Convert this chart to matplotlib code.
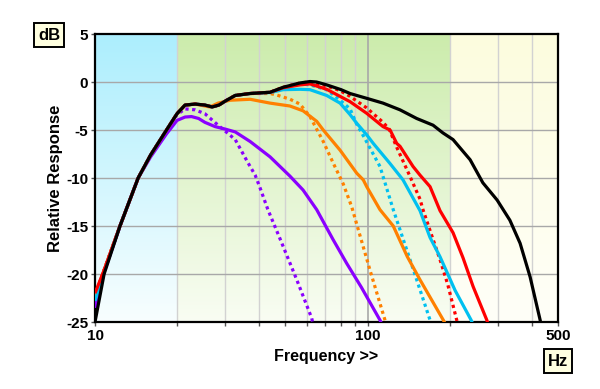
import numpy as np
import matplotlib
matplotlib.use('Agg')
import matplotlib.pyplot as plt
from matplotlib.ticker import FixedLocator, NullFormatter, FixedFormatter

plt.rcParams['font.family'] = ['Liberation Sans', 'DejaVu Sans']

# ---------------- data ----------------
black_f = [10, 10.8, 12.35, 14.4, 16.0, 18.3, 20.0, 21.4, 23.3, 25.3, 26.9, 28.5, 30, 32.7, 37, 43.9, 49,
           56.5, 61.5, 65, 70.8, 80, 86.3, 99.3, 114, 131.6, 151.5, 174, 189, 206, 238, 265, 299, 333,
           363, 395, 430, 445]
black_db = [-25, -20, -15, -10, -7.6, -5.0, -3.3, -2.4, -2.3, -2.4, -2.6, -2.4, -2.0, -1.4, -1.2, -1.07, -0.55,
            -0.1, 0.05, 0.0, -0.3, -0.8, -1.2, -1.7, -2.2, -2.9, -3.8, -4.5, -5.3, -6.0, -8.1, -10.5, -12.3, -14.4,
            -16.8, -20.3, -24.8, -27]

red_f = [10, 10.8, 12.35, 14.4, 16.0, 18.3, 20.0, 21.4, 23.3, 25.3, 26.9, 28.5, 30, 32.7, 37, 43.9, 49,
         56.5, 61.5, 70.8, 86.3, 99.3, 114, 121, 128, 131.6, 146.9, 155.8, 169.6, 184.5, 206, 224, 244, 274, 285]
red_db = [-22, -19.6, -15, -10, -7.6, -5.0, -3.3, -2.4, -2.3, -2.4, -2.6, -2.4, -2.0, -1.4, -1.2, -1.07, -0.6,
          -0.3, -0.2, -0.76, -2.05, -3.26, -4.65, -5.0, -6.4, -6.7, -8.8, -9.7, -10.9, -13.4, -15.7, -18.3, -21.3,
          -24.8, -26.5]

red_dot_f = [10, 10.8, 12.35, 14.4, 16.0, 18.3, 20.0, 21.4, 23.3, 25.3, 26.9, 28.5, 30, 32.7, 37, 43.9, 49,
             56.5, 61.5, 70.8, 79.3, 86.3, 99.3, 114, 120, 128, 143, 155.8, 159.8, 174, 184.5, 197, 212.5, 220]
red_dot_db = [-22.3, -19.6, -15, -10, -7.6, -5.0, -3.3, -2.4, -2.3, -2.4, -2.6, -2.4, -2.0, -1.4, -1.2, -1.07, -0.55,
              -0.1, 0.0, -0.4, -0.9, -1.5, -2.7, -4.2, -4.9, -6.8, -9.8, -12.2, -13.3, -16.4, -18.5, -21.1,
              -24.8, -27]

cyan_f = [10, 10.8, 12.35, 14.4, 16.0, 18.3, 20.0, 21.4, 23.3, 25.3, 26.9, 28.5, 30, 32.7, 37, 43.9, 49,
          56.5, 61.5, 70.8, 79.3, 86.3, 91.3, 99.3, 105, 121, 135, 155.8, 169.6, 184.5, 209.5, 240, 250]
cyan_db = [-22.8, -19.7, -15, -10, -7.6, -5.0, -3.3, -2.4, -2.3, -2.4, -2.6, -2.4, -2.0, -1.4, -1.2, -1.1, -0.8,
           -0.76, -0.8, -1.4, -2.2, -3.4, -4.3, -5.5, -6.4, -8.5, -10.2, -13.4, -16.2, -18.2, -21.7, -24.8, -26]

cyan_dot_f = [10, 10.8, 12.35, 14.4, 16.0, 18.3, 20.0, 21.4, 23.3, 25.3, 26.9, 28.5, 30, 32.7, 37, 43.9, 49,
              56.5, 61.5, 70.8, 79.3, 86.3, 91.3, 96.5, 111.1, 124.3, 143.2, 169.6, 178]
cyan_dot_db = [-22.8, -19.7, -15, -10, -7.6, -5.0, -3.3, -2.4, -2.3, -2.4, -2.6, -2.4, -2.0, -1.4, -1.2, -1.07, -0.6,
               -0.2, -0.3, -0.8, -1.9, -2.8, -4.4, -5.6, -8.8, -13.3, -18.5, -24.8, -26.5]

orange_f = [10, 10.8, 12.35, 14.4, 16.0, 18.3, 20.0, 21.4, 23.3, 25.3, 26.4, 28.3, 31.3, 37.1, 43.9, 51.9, 58,
            65.1, 68.8, 79.3, 91.3, 96.5, 99.3, 111.1, 124.3, 140, 155.8, 189.7, 200]
orange_db = [-22.3, -19.6, -15, -10, -7.6, -5.0, -3.3, -2.4, -2.3, -2.5, -2.6, -2.2, -1.9, -1.8, -2.2, -2.5, -3.0,
             -4.1, -5.0, -7.1, -9.5, -10.2, -10.9, -13.3, -15.0, -18.2, -20.6, -24.8, -26]

orange_dot_f = [10, 10.8, 12.35, 14.4, 16.0, 18.3, 20.0, 21.4, 23.3, 25.3, 26.9, 28.5, 30, 32.7, 37, 43.9, 46.4,
                52, 56.5, 61.5, 68.8, 75, 81.4, 87.5, 102.1, 115.9, 122]
orange_dot_db = [-22.3, -19.6, -15, -10, -7.6, -5.0, -3.3, -2.4, -2.3, -2.4, -2.6, -2.4, -2.0, -1.4, -1.2, -1.2, -1.35,
                 -1.8, -2.3, -3.6, -6.2, -8.5, -10.6, -13.0, -19.6, -24.8, -27]

purple_f = [10, 10.8, 12.35, 14.4, 16.0, 18.3, 20.0, 21.4, 22.6, 24.0, 25.3, 27.6, 30, 32.7, 37.1, 43.9, 51.9,
            58, 65.1, 74.7, 83.9, 95, 111.1, 118]
purple_db = [-23.5, -19.8, -15, -10, -7.8, -5.4, -4.0, -3.65, -3.6, -3.8, -4.2, -4.65, -4.9, -5.2, -6.2, -7.8, -9.8,
             -11.25, -13.3, -16.4, -18.9, -21.4, -24.8, -26.5]

purple_dot_f = [10, 10.8, 12.35, 14.4, 16.0, 18.3, 20.0, 21.4, 23.3, 25.3, 28.3, 30, 32.7, 36.4, 38.7, 40.3, 43.1,
                47.7, 55, 62.4, 64]
purple_dot_db = [-23.5, -19.8, -15, -10, -7.6, -5.1, -3.4, -2.8, -2.9, -3.3, -4.5, -5.1, -6.0, -8.4, -9.7, -11.0,
                 -13.3, -16.3, -20.6, -24.6, -26]

y_ticks = [5, 0, -5, -10, -15, -20, -25]
x_major = [10, 100, 500]
x_minor = [20, 30, 40, 50, 60, 70, 80, 90, 200, 300, 400]
band_edges = [10, 20, 200, 500]

# ---------------- figure ----------------
W, H = 600, 389
fig = plt.figure(figsize=(W / 100, H / 100), dpi=100)
rect = [95 / W, 1 - 322 / H, (558 - 95) / W, (322 - 34) / H]

# background gradient bands
bg = fig.add_axes(rect, zorder=0)
bg.set_axis_off()
ncols, nrows = 463, 288
xs = (np.arange(ncols) + 0.5) / ncols
lx = np.log10(10) + xs * np.log10(50)
t = np.linspace(0, 1, nrows)[:, None]  # 0 top, 1 bottom
tops = [np.array([172, 238, 253]), np.array([204, 236, 172]), np.array([252, 252, 222])]
bots = [np.array([248, 254, 255]), np.array([249, 253, 243]), np.array([255, 255, 248])]
img = np.zeros((nrows, ncols, 3))
for i in range(3):
    m = (lx >= np.log10(band_edges[i])) & (lx < np.log10(band_edges[i + 1]) + 1e-9)
    col = tops[i][None, :] * (1 - t) + bots[i][None, :] * t
    img[:, m, :] = col[:, None, :]
bg.imshow(img / 255.0, extent=[0, 1, 0, 1], aspect='auto', interpolation='bilinear')
bg.set_xlim(0, 1)
bg.set_ylim(0, 1)

ax = fig.add_axes(rect, zorder=1)
ax.patch.set_alpha(0)
ax.set_xscale('log')
ax.set_xlim(10, 500)
ax.set_ylim(-25, 5)

for f in x_minor:
    ax.axvline(f, color='#d2d2d2', lw=1.0, zorder=1)
ax.axvline(100, color='#a8a8a8', lw=1.2, zorder=1)
for yv in [0, -5, -10, -15, -20]:
    ax.axhline(yv, color='#a8a8a8', lw=1.0, zorder=1)

dot = (0, (1.0, 1.1))
lw = 2.3
series = [
    (purple_dot_f, purple_dot_db, '#8a00ff', dot),
    (orange_dot_f, orange_dot_db, '#ff8000', dot),
    (cyan_dot_f, cyan_dot_db, '#00c0f0', dot),
    (red_dot_f, red_dot_db, '#ff0000', dot),
    (purple_f, purple_db, '#8a00ff', '-'),
    (orange_f, orange_db, '#ff8000', '-'),
    (cyan_f, cyan_db, '#00c0f0', '-'),
    (red_f, red_db, '#ff0000', '-'),
    (black_f, black_db, '#000000', '-'),
]
for i, (fx, dy, c, ls) in enumerate(series):
    ax.plot(fx, dy, color=c, lw=lw, ls=ls, zorder=3 + i, solid_capstyle='butt', dash_capstyle='butt',
            solid_joinstyle='round')

for s in ax.spines.values():
    s.set_linewidth(1.6)
    s.set_color('black')

ax.xaxis.set_major_locator(FixedLocator(x_major))
ax.xaxis.set_major_formatter(FixedFormatter([str(v) for v in x_major]))
ax.xaxis.set_minor_locator(FixedLocator(x_minor))
ax.xaxis.set_minor_formatter(NullFormatter())
ax.set_yticks(y_ticks)
ax.set_yticklabels([str(v) for v in y_ticks])
ax.tick_params(axis='both', which='both', direction='out', length=3, width=1, color='#555555')
ax.tick_params(axis='both', which='major', labelsize=11, pad=2)
for lab in ax.get_xticklabels() + ax.get_yticklabels():
    lab.set_fontweight('bold')

ax.set_xlabel('Frequency >>', fontsize=11.5, fontweight='bold', labelpad=4)
ax.set_ylabel('Relative Response', fontsize=12, fontweight='bold', labelpad=2)

box = dict(boxstyle='square,pad=0.25', fc='#ffffe0', ec='black', lw=1.4)
fig.text(49 / W, 1 - 35 / H, 'dB', fontsize=12, fontweight='bold', ha='center', va='center', bbox=box)
fig.text(558 / W, 1 - 361 / H, 'Hz', fontsize=12, fontweight='bold', ha='center', va='center', bbox=box)

fig.savefig('out.png', dpi=100)
